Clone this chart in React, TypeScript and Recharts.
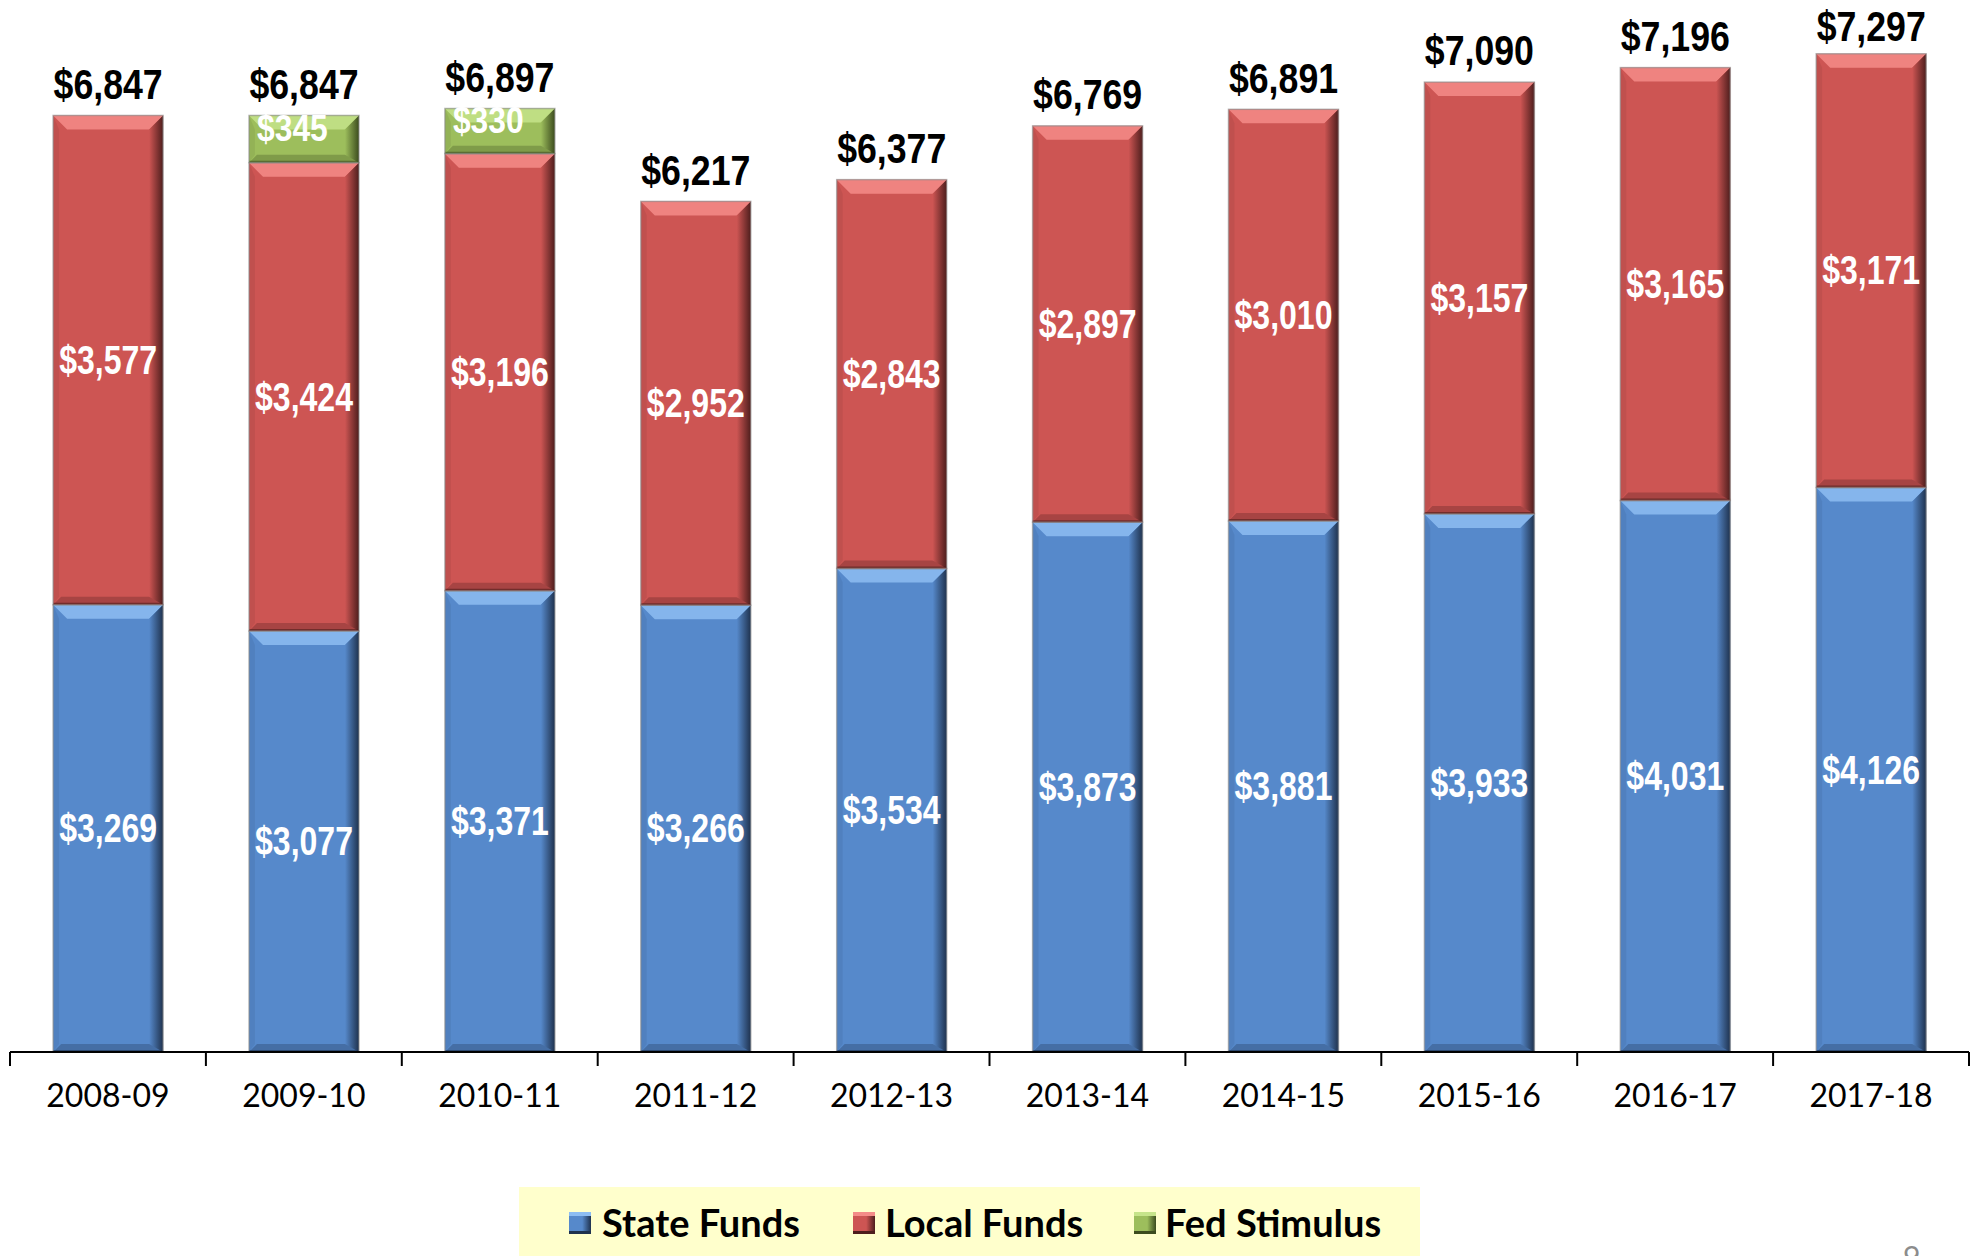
import React from "react";
import { BarChart, Bar, XAxis, YAxis, LabelList } from "recharts";

const categories = ["2008-09", "2009-10", "2010-11", "2011-12", "2012-13", "2013-14", "2014-15", "2015-16", "2016-17", "2017-18"];
const stateFunds = [3269, 3077, 3371, 3266, 3534, 3873, 3881, 3933, 4031, 4126];
const localFunds = [3577, 3424, 3196, 2952, 2843, 2897, 3010, 3157, 3165, 3171];
const fedStimulus = [0, 345, 330, 0, 0, 0, 0, 0, 0, 0];
const totals = [6847, 6847, 6897, 6217, 6377, 6769, 6891, 7090, 7196, 7297];

const data = categories.map((c, i) => ({
  name: c,
  state: stateFunds[i],
  local: localFunds[i],
  fed: fedStimulus[i],
  total: totals[i],
}));

const W = 1977;
const H = 1256;
const MARGIN = { top: 26, right: 8, left: 10, bottom: 0 };
const BAND = (W - MARGIN.left - MARGIN.right) / categories.length;

const NARROW = "'Liberation Sans', Arial, sans-serif";
const CAL = "Lato, 'Open Sans', sans-serif";

const PALETTE: Record<string, { base: string; light: string; dark: string }> = {
  state: { base: "#5689CB", light: "#8DBDF2", dark: "#1F324E" },
  local: { base: "#CD5553", light: "#F48C88", dark: "#4E1E1D" },
  fed: { base: "#9DBE5C", light: "#C6E48A", dark: "#3C4C1E" },
};

const fmt = (v: number) => "$" + v.toLocaleString("en-US");

const makeShape = (key: string) => (props: any) => {
  const { x, y, width, height } = props;
  if (!height || height <= 0.5) return <g />;
  const p = PALETTE[key];
  const b = Math.min(14, height / 2);
  const bb = Math.min(8, height / 2);
  const x2 = x + width;
  const y2 = y + height;
  return (
    <g>
      <rect x={x} y={y} width={width} height={height} fill={p.base} />
      <polygon points={`${x},${y} ${x2},${y} ${x2 - b},${y + b} ${x + b},${y + b}`} fill={p.light} opacity={0.85} />
      <polygon points={`${x},${y2} ${x2},${y2} ${x2 - bb},${y2 - bb} ${x + bb},${y2 - bb}`} fill={p.dark} opacity={0.3} />
      <polygon points={`${x2},${y} ${x2},${y2} ${x2 - b},${y2 - bb} ${x2 - b},${y + b}`} fill={`url(#rg-${key})`} />
      <polygon points={`${x},${y} ${x},${y2} ${x + 6},${y2 - bb} ${x + 6},${y + b}`} fill="#000" opacity={0.06} />
      <line x1={x} y1={y2 - 1} x2={x2} y2={y2 - 1} stroke={p.dark} strokeOpacity={0.6} strokeWidth={2} />
      <rect x={x} y={y} width={width} height={height} fill="none" stroke="#8a8a8a" strokeOpacity={0.6} strokeWidth={1.5} />
    </g>
  );
};

const NarrowText = ({ cx, cy, sx, size, fill, anchor, children }: any) => (
  <text
    transform={`translate(${cx},${cy}) scale(${sx},1)`}
    x={0}
    y={0}
    textAnchor={anchor}
    dominantBaseline="central"
    fill={fill}
    fontFamily={NARROW}
    fontWeight="bold"
    fontSize={size}
  >
    {children}
  </text>
);

const InsideLabel = (props: any) => {
  const { x, y, width, height, value } = props;
  if (!value) return null;
  return (
    <NarrowText cx={x + width / 2} cy={y + height / 2} sx={0.8} size={40} fill="#fff" anchor="middle">
      {fmt(value)}
    </NarrowText>
  );
};

const FedLabel = (props: any) => {
  const { x, y, height, value } = props;
  if (!value) return null;
  return (
    <NarrowText cx={x + 8} cy={y + height / 2 - 11} sx={0.86} size={37} fill="#fff" anchor="start">
      {fmt(value)}
    </NarrowText>
  );
};

const TotalLabel = (props: any) => {
  const { x, y, width, value } = props;
  if (value == null) return null;
  return (
    <NarrowText cx={x + width / 2} cy={Math.max(y - 32, 26)} sx={0.83} size={43} fill="#000" anchor="middle">
      {fmt(value)}
    </NarrowText>
  );
};

const Tick = (props: any) => {
  const { x, y, payload, index } = props;
  const last = index === categories.length - 1;
  return (
    <g>
      <line x1={x - BAND / 2} y1={y} x2={x - BAND / 2} y2={y + 14} stroke="#000" strokeWidth={2} />
      {last && <line x1={x + BAND / 2} y1={y} x2={x + BAND / 2} y2={y + 14} stroke="#000" strokeWidth={2} />}
      <text x={x} y={y + 55} textAnchor="middle" fill="#000" fontFamily={CAL} fontSize={32}>
        {payload.value}
      </text>
    </g>
  );
};

const legendItems = [
  { key: "state", label: "State Funds", mx: 569, tx: 602 },
  { key: "local", label: "Local Funds", mx: 853, tx: 885 },
  { key: "fed", label: "Fed Stimulus", mx: 1134, tx: 1165 },
];

export default function App() {
  return (
    <div style={{ position: "absolute", left: 0, top: 0, width: W, height: H, overflow: "hidden", background: "#fff" }}>
      <svg width={0} height={0} style={{ position: "absolute" }}>
        <defs>
          {Object.keys(PALETTE).map((k) => (
            <linearGradient key={k} id={`rg-${k}`} x1="0" y1="0" x2="1" y2="0">
              <stop offset="0%" stopColor={PALETTE[k].base} stopOpacity={1} />
              <stop offset="100%" stopColor={PALETTE[k].dark} stopOpacity={1} />
            </linearGradient>
          ))}
        </defs>
      </svg>
      <BarChart width={W} height={H} data={data} margin={MARGIN} barCategoryGap="22%">
        <XAxis
          dataKey="name"
          height={204}
          axisLine={{ stroke: "#000", strokeWidth: 2 }}
          tickLine={false}
          tickSize={0}
          tickMargin={0}
          tick={<Tick />}
          interval={0}
        />
        <YAxis hide domain={[0, 7500]} />
        <Bar dataKey="state" stackId="a" fill={PALETTE.state.base} shape={makeShape("state")} isAnimationActive={false}>
          <LabelList dataKey="state" content={<InsideLabel />} />
        </Bar>
        <Bar dataKey="local" stackId="a" fill={PALETTE.local.base} shape={makeShape("local")} isAnimationActive={false}>
          <LabelList dataKey="local" content={<InsideLabel />} />
        </Bar>
        <Bar dataKey="fed" stackId="a" fill={PALETTE.fed.base} shape={makeShape("fed")} isAnimationActive={false}>
          <LabelList dataKey="fed" content={<FedLabel />} />
          <LabelList dataKey="total" content={<TotalLabel />} />
        </Bar>
      </BarChart>
      <div style={{ position: "absolute", left: 519, top: 1187, width: 901, height: 80, background: "#FFFFCC" }} />
      {legendItems.map((it) => (
        <React.Fragment key={it.key}>
          <div
            style={{
              position: "absolute",
              left: it.mx,
              top: 1212,
              width: 22,
              height: 22,
              boxSizing: "border-box",
              background: `linear-gradient(to right, ${PALETTE[it.key].base} 0%, ${PALETTE[it.key].base} 60%, ${PALETTE[it.key].dark} 100%)`,
              borderTop: `4px solid ${PALETTE[it.key].light}`,
              borderBottom: `3px solid ${PALETTE[it.key].dark}`,
            }}
          />
          <div
            style={{
              position: "absolute",
              left: it.tx,
              top: 1222,
              transform: "translateY(-50%)",
              fontFamily: CAL,
              fontWeight: "bold",
              fontSize: 38,
              lineHeight: 1,
              color: "#000",
              whiteSpace: "nowrap",
            }}
          >
            {it.label}
          </div>
        </React.Fragment>
      ))}
      <div style={{ position: "absolute", left: 1903, top: 1238, fontFamily: CAL, fontSize: 30, color: "#8c8c8c" }}>9</div>
    </div>
  );
}
